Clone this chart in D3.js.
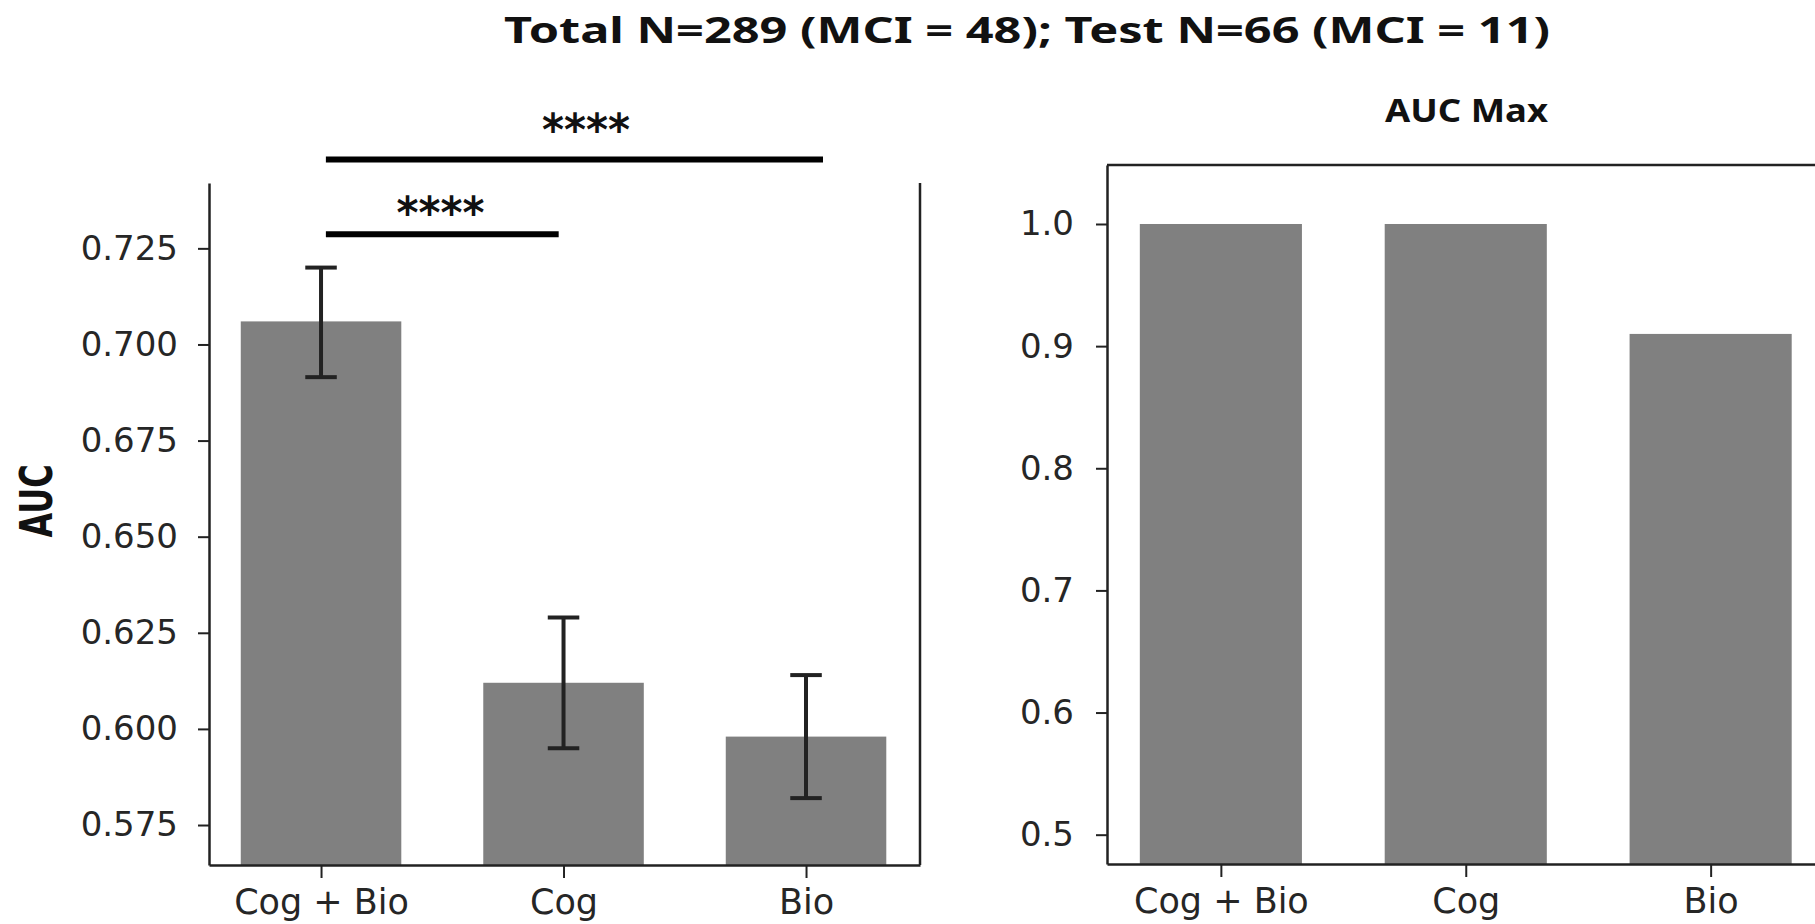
<!DOCTYPE html>
<html>
<head>
<meta charset="utf-8">
<script src="https://cdn.jsdelivr.net/npm/d3@7"></script>
<style>
  html, body { margin: 0; padding: 0; background: #fff; }
  svg { display: block; }
</style>
</head>
<body>
<svg id="chart" width="1815" height="924"></svg>
<script>
// ---------- data ----------
const categories = ["Cog + Bio", "Cog", "Bio"];
const aucMean  = [0.706, 0.612, 0.598];
const aucLower = [0.6915, 0.595, 0.582];
const aucUpper = [0.720, 0.629, 0.614];
const aucMax   = [1.0, 1.0, 0.91];
const leftTicks  = [0.575, 0.600, 0.625, 0.650, 0.675, 0.700, 0.725];
const rightTicks = [0.5, 0.6, 0.7, 0.8, 0.9, 1.0];
const sigFrom  = [0.02, 0.02];
const sigTo    = [0.98, 2.07];
const sigLevel = [0.7287, 0.7481];
const sigLabel = ["****", "****"];
const sigLabelAt = [0.493, 1.093];
const sigLabelLevel = [0.7303, 0.7520];
const mainTitle = "Total N=289 (MCI = 48); Test N=66 (MCI = 11)";
const rightTitle = "AUC Max";
const yLabel = "AUC";

// ---------- setup ----------
const svg = d3.select("#chart");
const barColor = "#808080";
const ink = "#222222";
const barW = 0.662;

function styleAxis(g) {
  g.select(".domain").attr("stroke", ink).attr("stroke-width", 2.5);
  g.selectAll(".tick line").attr("stroke", ink).attr("stroke-width", 2);
  g.selectAll(".tick text").attr("fill", "#262626")
    .attr("font-family", "DejaVu Sans").attr("font-size", 34);
}

// ---------- title ----------
svg.append("text")
  .attr("x", 504).attr("y", 43)
  .attr("font-family", "Noto Sans").attr("font-weight", "bold")
  .attr("font-size", 35).attr("fill", "#111")
  .attr("textLength", 1046).attr("lengthAdjust", "spacingAndGlyphs")
  .text(mainTitle);

// ---------- left panel ----------
const xL = d3.scaleLinear().domain([-0.462, 2.470]).range([209, 920]);
const yL = d3.scaleLinear().domain([0.5646, 0.742]).range([865, 183]);
const gL = svg.append("g");

gL.selectAll("rect.bar").data(aucMean).join("rect")
  .attr("class", "bar")
  .attr("x", (d, i) => xL(i - barW / 2))
  .attr("width", (d, i) => xL(i + barW / 2) - xL(i - barW / 2))
  .attr("y", d => yL(d))
  .attr("height", d => yL.range()[0] - yL(d))
  .attr("fill", barColor);

// error bars
const capHalf = 0.065;
const eb = gL.selectAll("g.err").data(aucMean).join("g").attr("class", "err")
  .attr("stroke", ink).attr("stroke-width", 4);
eb.append("line")
  .attr("x1", (d, i) => xL(i)).attr("x2", (d, i) => xL(i))
  .attr("y1", (d, i) => yL(aucLower[i])).attr("y2", (d, i) => yL(aucUpper[i]));
eb.append("line")
  .attr("x1", (d, i) => xL(i - capHalf)).attr("x2", (d, i) => xL(i + capHalf))
  .attr("y1", (d, i) => yL(aucUpper[i])).attr("y2", (d, i) => yL(aucUpper[i]));
eb.append("line")
  .attr("x1", (d, i) => xL(i - capHalf)).attr("x2", (d, i) => xL(i + capHalf))
  .attr("y1", (d, i) => yL(aucLower[i])).attr("y2", (d, i) => yL(aucLower[i]));

// axes
const axL = gL.append("g").attr("transform", `translate(${xL.range()[0]},0)`)
  .call(d3.axisLeft(yL).tickValues(leftTicks).tickFormat(d3.format(".3f"))
    .tickSize(11).tickSizeOuter(0));
styleAxis(axL);
axL.selectAll(".tick text").attr("x", -31);

const axLB = gL.append("g").attr("transform", `translate(0,${yL.range()[0]})`)
  .call(d3.axisBottom(xL).tickValues([0, 1, 2]).tickFormat(i => categories[i])
    .tickSize(13).tickSizeOuter(0));
styleAxis(axLB);
axLB.selectAll(".tick text").attr("font-size", 35).attr("y", 49).attr("dy", 0);

gL.append("line")
  .attr("x1", xL.range()[1]).attr("x2", xL.range()[1])
  .attr("y1", yL.range()[0]).attr("y2", yL.range()[1])
  .attr("stroke", ink).attr("stroke-width", 2.5);

gL.append("text")
  .attr("transform", `translate(52,501) scale(1.4,1) rotate(-90)`)
  .attr("text-anchor", "middle")
  .attr("font-family", "DejaVu Sans").attr("font-weight", "bold")
  .attr("font-size", 32).attr("fill", "#111")
  .text(yLabel);

// significance annotations
const sig = gL.selectAll("g.sig").data(sigLabel).join("g").attr("class", "sig");
sig.append("line")
  .attr("x1", (d, i) => xL(sigFrom[i])).attr("x2", (d, i) => xL(sigTo[i]))
  .attr("y1", (d, i) => yL(sigLevel[i])).attr("y2", (d, i) => yL(sigLevel[i]))
  .attr("stroke", "#000").attr("stroke-width", 6);
sig.append("text")
  .attr("x", (d, i) => xL(sigLabelAt[i]))
  .attr("y", (d, i) => yL(sigLabelLevel[i]))
  .attr("text-anchor", "middle")
  .attr("font-family", "DejaVu Sans").attr("font-weight", "bold")
  .attr("font-size", 44).attr("fill", "#111")
  .attr("textLength", 88).attr("lengthAdjust", "spacingAndGlyphs")
  .text(d => d);

// ---------- right panel ----------
const xR = d3.scaleLinear().domain([-0.465, 2.467]).range([1107, 1825]);
const yR = d3.scaleLinear().domain([0.476, 1.0483]).range([864, 165]);
const gR = svg.append("g");

gR.selectAll("rect.bar").data(aucMax).join("rect")
  .attr("class", "bar")
  .attr("x", (d, i) => xR(i - barW / 2))
  .attr("width", (d, i) => xR(i + barW / 2) - xR(i - barW / 2))
  .attr("y", d => yR(d))
  .attr("height", d => yR.range()[0] - yR(d))
  .attr("fill", barColor);

const axR = gR.append("g").attr("transform", `translate(${xR.range()[0]},0)`)
  .call(d3.axisLeft(yR).tickValues(rightTicks).tickFormat(d3.format(".1f"))
    .tickSize(11).tickSizeOuter(0));
styleAxis(axR);
axR.selectAll(".tick text").attr("x", -33);

const axRB = gR.append("g").attr("transform", `translate(0,${yR.range()[0]})`)
  .call(d3.axisBottom(xR).tickValues([0, 1, 2]).tickFormat(i => categories[i])
    .tickSize(13).tickSizeOuter(0));
styleAxis(axRB);
axRB.selectAll(".tick text").attr("font-size", 35).attr("y", 49).attr("dy", 0);

gR.append("line")
  .attr("x1", xR.range()[0]).attr("x2", xR.range()[1])
  .attr("y1", yR.range()[1]).attr("y2", yR.range()[1])
  .attr("stroke", ink).attr("stroke-width", 2.5);

gR.append("text")
  .attr("x", 1385).attr("y", 122)
  .attr("font-family", "Noto Sans").attr("font-weight", "bold")
  .attr("font-size", 33).attr("fill", "#111")
  .attr("textLength", 163).attr("lengthAdjust", "spacingAndGlyphs")
  .text(rightTitle);
</script>
</body>
</html>
